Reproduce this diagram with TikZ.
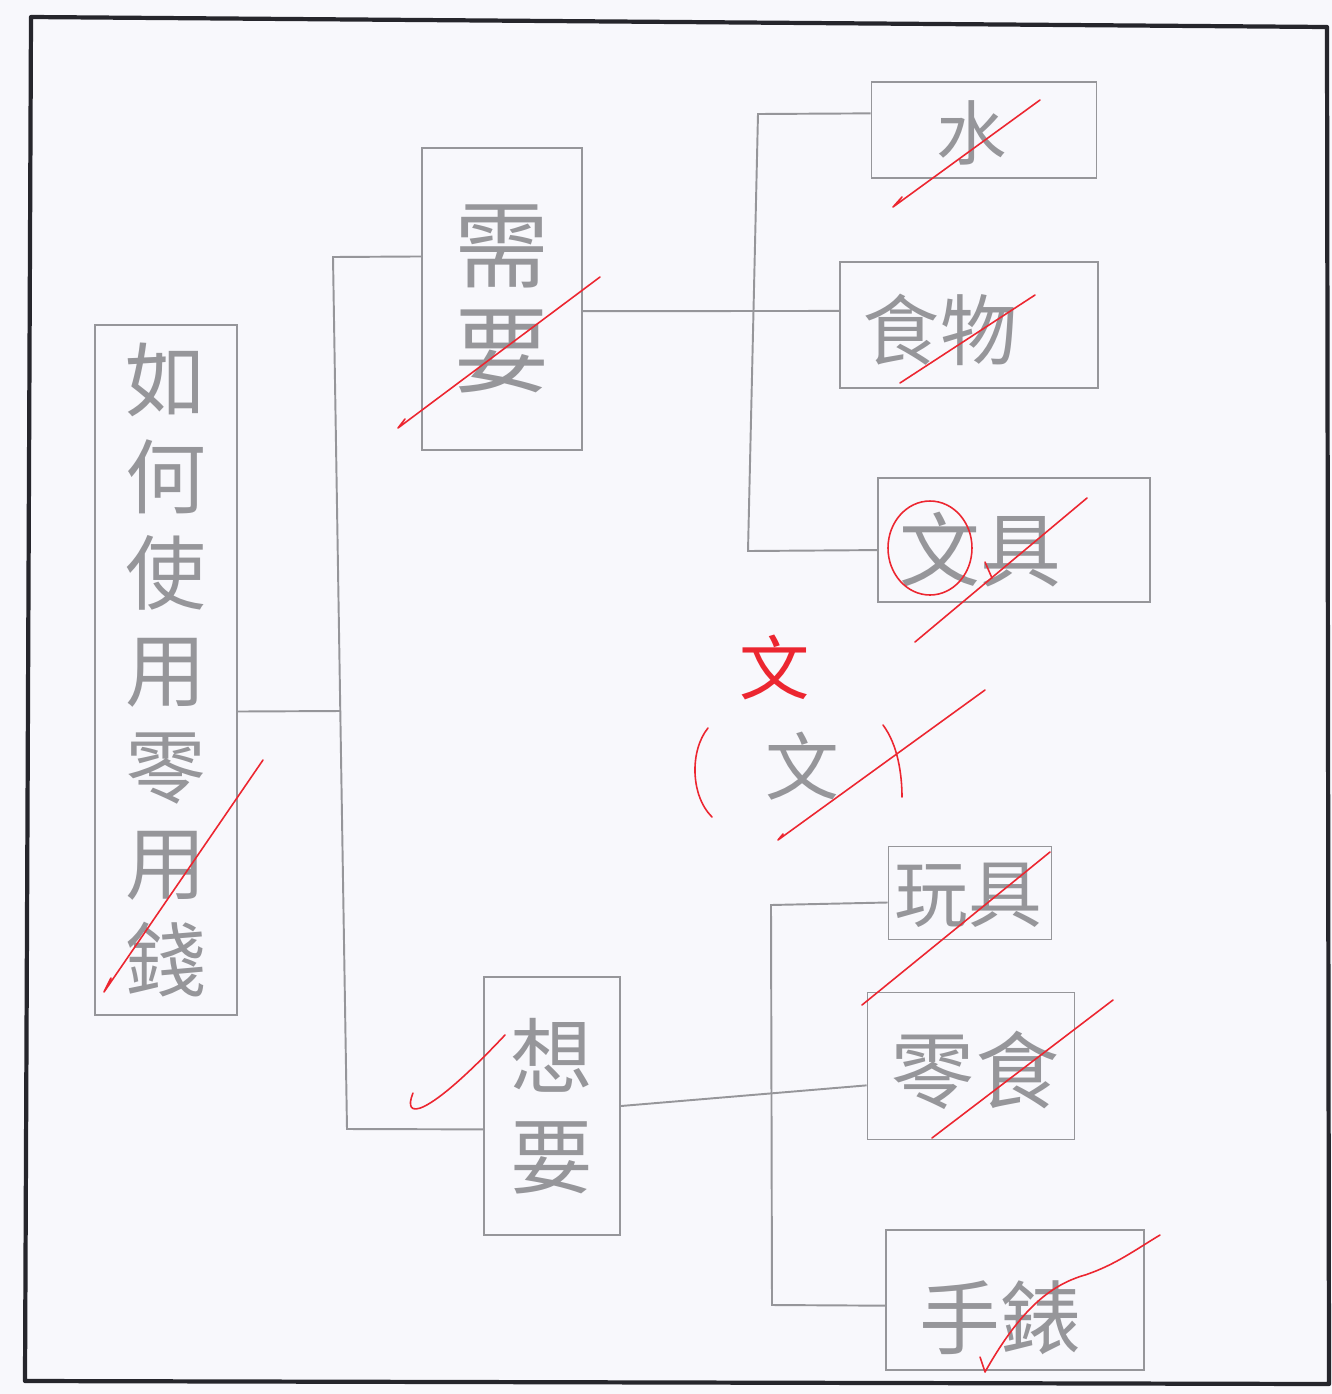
\documentclass[tikz,border=0pt]{standalone}
\usepackage{fontspec}
\newfontfamily\cjk{Noto Sans CJK TC}
\usepackage{tikz}
\usetikzlibrary{calc}
\definecolor{pencil}{RGB}{150,150,154}
\definecolor{penRed}{RGB}{236,38,48}
\definecolor{frameInk}{RGB}{38,38,44}
\definecolor{paperBg}{RGB}{248,248,252}

\begin{document}
\begin{tikzpicture}[x=.02cm,y=-.02cm]
\tikzset{
box/.style={draw=pencil,line width=1.1pt,inner sep=0pt,text=pencil,align=center},
word/.style={inner sep=0pt,text=pencil},
wire/.style={draw=pencil,line width=1.1pt},
tick/.style={draw=penRed,line width=.9pt,line cap=round,line join=round},
outline/.style={draw=frameInk,line width=2.4pt,line join=round}
}
\useasboundingbox (0,0) rectangle (1332,1394);
\fill[paperBg] (0,0) rectangle (1332,1394);
\draw[outline] (31,17) -- (1327,27) -- (1329,1384) -- (25,1381) -- cycle;
% main topic and the two groups
\node[box,minimum width=2.84cm,minimum height=13.8cm,font=\cjk\fontsize{46}{55}\selectfont] (root) at (166,670) {如\\何\\使\\用\\零\\用\\錢};
\node[box,minimum width=3.2cm,minimum height=6.04cm,font=\cjk\fontsize{54}{60}\selectfont] (need) at (502,299) {需\\要};
\node[box,minimum width=2.72cm,minimum height=5.16cm,font=\cjk\fontsize{47}{57}\selectfont] (want) at (552,1106) {想\\要};
% leaves: box, then its word
\foreach \nm/\cx/\cy/\w/\h/\dx/\dy/\fs/\txt in {water/984/130/4.5/1.92/-12/3/40/水,food/969/325/5.16/2.52/-29/5/44/食物,
  stat/1014/540/5.44/2.48/-34/10/46/文具,toy/970/893/3.26/1.86/-2/2/42/玩具,snack/971/1066/4.14/2.94/4/4/48/零食,
  watch/1015/1300/5.16/2.8/-15/18/46/手錶}
{
  \node[box,minimum width=\w cm,minimum height=\h cm] (\nm) at (\cx,\cy) {};
  \node[word,font=\cjk\fontsize{\fs}{\fs}\selectfont] (\nm-t) at ($(\nm)+(\dx,\dy)$) {\txt};
}
% connectors
\coordinate (aTop) at (333,257);
\coordinate (aBot) at (347,1129);
\draw[wire] ($(need.north west)!.36!(need.south west)$) -- (aTop) -- (aBot) -- ($(want.north west)!.59!(want.south west)$);
\draw[wire] ($(root.north east)!.56!(root.south east)$) -- (340,711);
\coordinate (bTop) at (758,114);
\coordinate (bBot) at (748,551);
\draw[wire] ($(need.north east)!.54!(need.south east)$) -- ($(food.north west)!.39!(food.south west)$);
\draw[wire] ($(water.north west)!.33!(water.south west)$) -- (bTop) -- (bBot) -- ($(stat.north west)!.58!(stat.south west)$);
\coordinate (cTop) at (771,905);
\coordinate (cBot) at (772,1305);
\draw[wire] (want.east) -- ($(snack.north west)!.63!(snack.south west)$);
\draw[wire] ($(toy.north west)!.6!(toy.south west)$) -- (cTop) -- (cBot) -- ($(watch.north west)!.54!(watch.south west)$);
% correction in the middle
\node[font=\cjk\fontsize{40}{40}\selectfont,text=penRed] (fixWen) at (775,667) {文};
\node[font=\cjk\fontsize{42}{42}\selectfont,text=pencil] (oldWen) at (802,766) {文};
\draw[tick] (708,728) .. controls (690,750) and (690,795) .. (712,817);
\draw[tick] (883,725) .. controls (898,745) and (902,775) .. (902,797);
\draw[tick] (930,548) ellipse [x radius=.84cm,y radius=.94cm];
% red ticks
\draw[tick] (111,978) -- (104,992) -- (263,760);
\draw[tick] (405,419) -- (398,428) -- (600,277);
\draw[tick] (413,1093) .. controls (402,1120) and (425,1120) .. (505,1035);
\draw[tick] (902,197) -- (893,207) -- (1040,100);
\draw[tick] (900,383) -- (1035,295);
\draw[tick] (915,642) -- (1087,498);
\draw[tick] (985,562) -- (992,578);
\draw[tick] (783,834) -- (778,840) -- (985,690);
\draw[tick] (862,1005) -- (1050,852);
\draw[tick] (932,1138) -- (1113,1000);
\draw[tick] (980,1357) -- (985,1372) .. controls (1020,1310) and (1050,1285) .. (1085,1275) .. controls (1115,1265) and (1135,1250) .. (1160,1235);
\end{tikzpicture}
\end{document}
